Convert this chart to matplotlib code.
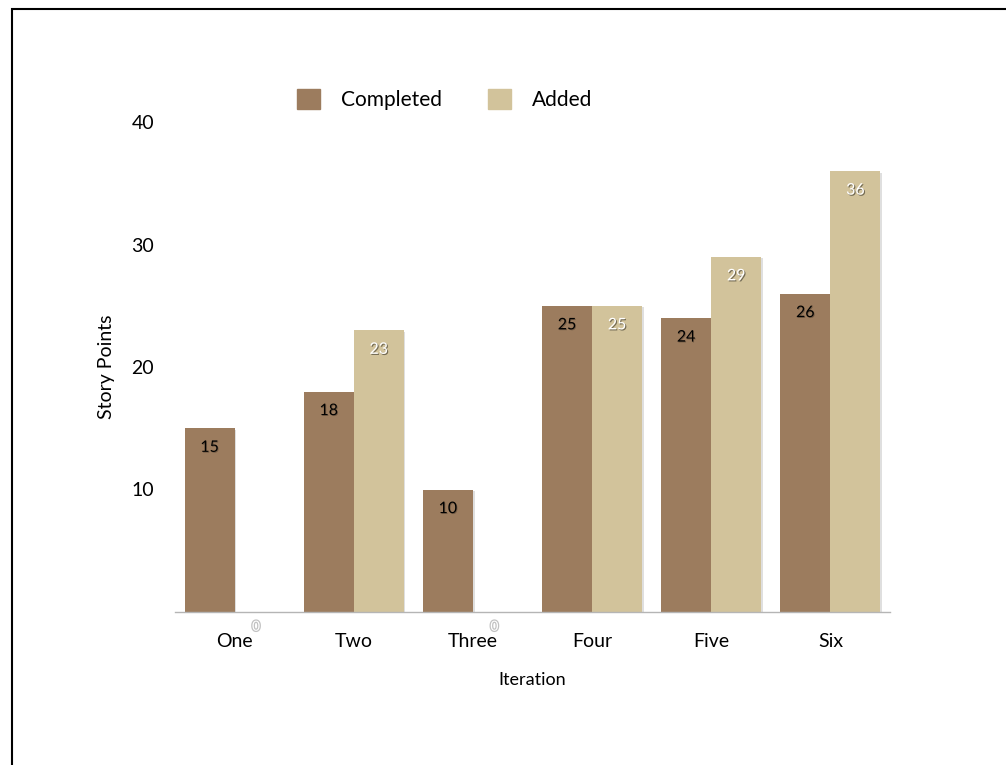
import numpy as np
import matplotlib
matplotlib.use("Agg")
import matplotlib.pyplot as plt
import matplotlib.patheffects as pe
from matplotlib.patches import Rectangle, Patch

plt.rcParams['font.family'] = ['Lato', 'DejaVu Sans']

# data
iterations = ["One", "Two", "Three", "Four", "Five", "Six"]
completed = [15, 18, 10, 25, 24, 26]
added = [0, 23, 0, 25, 29, 36]

col_completed = "#9c7c5e"
col_added = "#d2c39b"

fig = plt.figure(figsize=(10.06, 7.65), dpi=100)

# frame around the figure (left and top edges visible)
fig.patches.append(Rectangle((12 / 1006, -0.01), 1.0, 1 - 9 / 765 + 0.01,
                             transform=fig.transFigure, fill=False,
                             edgecolor="black", linewidth=1.5))

ax = fig.add_axes([175 / 1006, 153 / 765, 715 / 1006, 490 / 765])

x = np.arange(len(iterations))
w = 0.42
shadow = [pe.SimplePatchShadow(offset=(1.2, -1.2), alpha=0.25, shadow_rgbFace="gray"),
          pe.Normal()]

bars_c = ax.bar(x - w / 2, completed, w, color=col_completed, path_effects=shadow)
bars_a = ax.bar(x + w / 2, added, w, color=col_added, path_effects=shadow)

# value labels
for b, v in zip(bars_c, completed):
    ax.text(b.get_x() + b.get_width() / 2, v - 1.6, str(v), ha="center", va="center",
            fontsize=11.5, color="black",
            path_effects=[pe.withSimplePatchShadow(offset=(0.6, -0.6), alpha=0.25,
                                                   shadow_rgbFace="black")])
for b, v in zip(bars_a, added):
    if v > 0:
        ax.text(b.get_x() + b.get_width() / 2, v - 1.6, str(v), ha="center", va="center",
                fontsize=11.5, color="white",
                path_effects=[pe.withSimplePatchShadow(offset=(0.8, -0.8), alpha=0.45,
                                                       shadow_rgbFace="black")])
    else:
        ax.text(b.get_x() + b.get_width() / 2 - 0.03, -1.2, str(v), ha="center",
                va="center", fontsize=10, color="white",
                path_effects=[pe.withStroke(linewidth=1.8, foreground=(0.7, 0.7, 0.7, 0.8))])

ax.set_xlim(-0.5, len(iterations) - 0.5)
ax.set_ylim(0, 40)
ax.set_yticks([10, 20, 30, 40])
ax.set_xticks(x)
ax.set_xticklabels(iterations)
ax.tick_params(axis="both", length=0, labelsize=14)
ax.tick_params(axis="x", pad=15)
ax.tick_params(axis="y", pad=15)

for s in ["left", "right", "top"]:
    ax.spines[s].set_visible(False)
ax.spines["bottom"].set_color("#b5b5b5")
ax.spines["bottom"].set_linewidth(1)

ax.set_xlabel("Iteration", fontsize=13, labelpad=16)
ax.set_ylabel("Story Points", fontsize=14, labelpad=12)

handles = [Patch(color=col_completed, label="Completed"),
           Patch(color=col_added, label="Added")]
ax.legend(handles=handles, loc="upper left", bbox_to_anchor=(0.145, 1.105), ncol=2,
          frameon=False, fontsize=15, handlelength=1.1, handleheight=1.1,
          columnspacing=2.2, handletextpad=1.0)

fig.savefig("out.png", dpi=100)
